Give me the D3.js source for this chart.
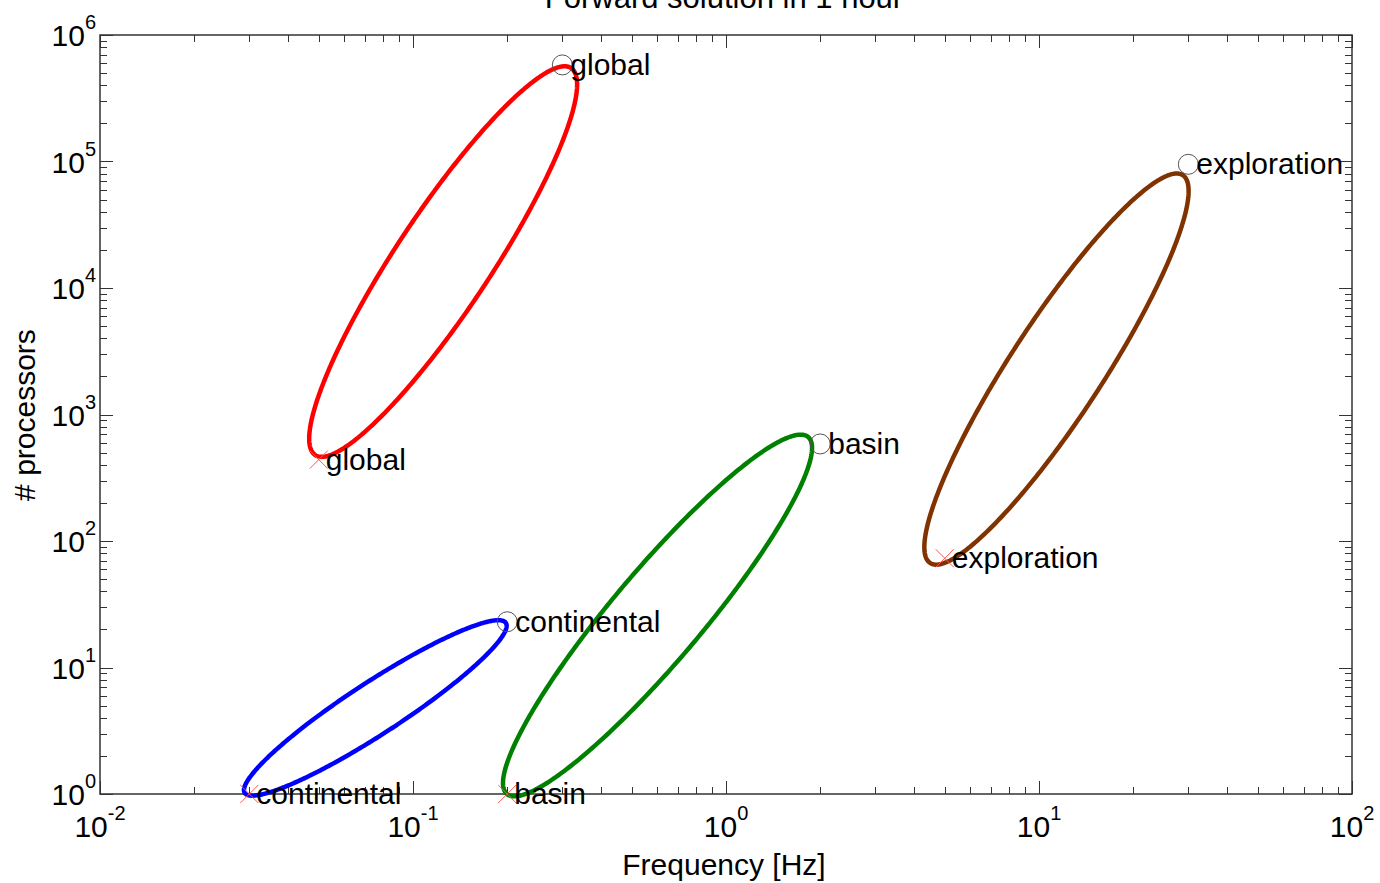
<!DOCTYPE html>
<html>
<head>
<meta charset="utf-8">
<script src="https://cdn.jsdelivr.net/npm/d3@7"></script>
<style>
  body { margin: 0; background: #fff; }
  text { font-family: "Liberation Sans", Arial, Helvetica, sans-serif; fill: #000; }
</style>
</head>
<body>
<svg id="chart" width="1380" height="883"></svg>
<script>
// regimes and their start (x marker) / end (circle) points
const regimes = ['global', 'continental', 'basin', 'exploration'];
const startFreq = [0.05, 0.03, 0.2, 5];
const startProcs = [440, 1, 1, 73];
const endFreq = [0.3, 0.2, 2, 30];
const endProcs = [5.8e5, 23, 585, 9.5e4];

// ellipse tips (low / high end of the major axis) and minor/major ratio
const ellLowFreq = [0.0487, 0.029, 0.1995, 4.49];
const ellLowProcs = [478, 1.02, 1.0, 67];
const ellHighFreq = [0.32, 0.198, 1.83, 28.8];
const ellHighProcs = [5.48e5, 22.5, 664, 7.8e4];
const ellRatio = [0.205, 0.167, 0.193, 0.2];

const xDomain = [1e-2, 1e2];
const yDomain = [1, 1e6];

const colors = ['#ff0000', '#0000ff', '#008000', '#803300'];

const svg = d3.select('#chart');
const mLeft = 100, mRight = 1352, mTop = 35, mBottom = 794;

const x = d3.scaleLog().domain(xDomain).range([mLeft, mRight]);
const y = d3.scaleLog().domain(yDomain).range([mBottom, mTop]);

const isMajor = v => Math.abs(Math.log10(v) - Math.round(Math.log10(v))) < 1e-9;

// ticks on all four sides, pointing inwards
const tickG = svg.append('g').attr('stroke', '#333').attr('stroke-width', 1);
x.ticks().forEach(v => {
  const len = isMajor(v) ? 13 : 7;
  const px = Math.round(x(v)) + 0.5;
  tickG.append('line').attr('x1', px).attr('x2', px).attr('y1', mBottom).attr('y2', mBottom - len);
  tickG.append('line').attr('x1', px).attr('x2', px).attr('y1', mTop).attr('y2', mTop + len);
});
y.ticks().forEach(v => {
  const len = isMajor(v) ? 13 : 7;
  const py = Math.round(y(v)) + 0.5;
  tickG.append('line').attr('y1', py).attr('y2', py).attr('x1', mLeft).attr('x2', mLeft + len);
  tickG.append('line').attr('y1', py).attr('y2', py).attr('x1', mRight).attr('x2', mRight - len);
});

svg.append('rect')
  .attr('x', mLeft).attr('y', mTop)
  .attr('width', mRight - mLeft).attr('height', mBottom - mTop)
  .attr('fill', 'none').attr('stroke', '#333').attr('stroke-width', 1.5);

// tick labels 10^n
x.ticks().filter(isMajor).forEach(v => {
  const t = svg.append('text')
    .attr('x', x(v)).attr('y', mBottom + 43)
    .attr('text-anchor', 'middle')
    .style('font-size', '30px');
  t.append('tspan').text('10');
  t.append('tspan').attr('dy', -17).style('font-size', '20px').text(Math.round(Math.log10(v)));
});
y.ticks().filter(isMajor).forEach(v => {
  const t = svg.append('text')
    .attr('x', mLeft - 4).attr('y', y(v) + 11)
    .attr('text-anchor', 'end')
    .style('font-size', '30px');
  t.append('tspan').text('10');
  t.append('tspan').attr('dy', -17).style('font-size', '20px').text(Math.round(Math.log10(v)));
});

// titles
svg.append('text')
  .attr('x', 724).attr('y', 8)
  .attr('text-anchor', 'middle')
  .style('font-size', '31px')
  .text('Forward solution in 1 hour');
svg.append('text')
  .attr('x', 724).attr('y', 875)
  .attr('text-anchor', 'middle')
  .style('font-size', '30px')
  .text('Frequency [Hz]');
svg.append('text')
  .attr('transform', 'translate(35,415) rotate(-90)')
  .attr('text-anchor', 'middle')
  .style('font-size', '30px')
  .text('# processors');

// ellipses
const line = d3.line().curve(d3.curveLinearClosed);
regimes.forEach((r, i) => {
  const p0 = [x(ellLowFreq[i]), y(ellLowProcs[i])];
  const p1 = [x(ellHighFreq[i]), y(ellHighProcs[i])];
  const cx = (p0[0] + p1[0]) / 2, cy = (p0[1] + p1[1]) / 2;
  const a = Math.hypot(p1[0] - p0[0], p1[1] - p0[1]) / 2;
  const b = a * ellRatio[i];
  const ang = Math.atan2(p1[1] - p0[1], p1[0] - p0[0]);
  const pts = d3.range(0, 2 * Math.PI, Math.PI / 180).map(t => {
    const u = a * Math.cos(t), w = b * Math.sin(t);
    return [cx + u * Math.cos(ang) - w * Math.sin(ang), cy + u * Math.sin(ang) + w * Math.cos(ang)];
  });
  svg.append('path')
    .attr('d', line(pts))
    .attr('fill', 'none')
    .attr('stroke', colors[i])
    .attr('stroke-width', 4.5)
    .attr('stroke-linejoin', 'round');
});

// start markers (x) and end markers (o) with labels
regimes.forEach((r, i) => {
  const sx = x(startFreq[i]), sy = y(startProcs[i]);
  svg.append('path')
    .attr('d', `M${sx - 9},${sy - 9}L${sx + 9},${sy + 9}M${sx - 9},${sy + 9}L${sx + 9},${sy - 9}`)
    .attr('stroke', '#ff5555').attr('stroke-width', 1).attr('fill', 'none');
  svg.append('text')
    .attr('x', sx + 7).attr('y', sy + 10)
    .style('font-size', '30px')
    .text(r);

  const ex = x(endFreq[i]), ey = y(endProcs[i]);
  svg.append('circle')
    .attr('cx', ex).attr('cy', ey).attr('r', 10)
    .attr('fill', 'none').attr('stroke', '#555').attr('stroke-width', 1);
  svg.append('text')
    .attr('x', ex + 8).attr('y', ey + 10)
    .style('font-size', '30px')
    .text(r);
});
</script>
</body>
</html>
